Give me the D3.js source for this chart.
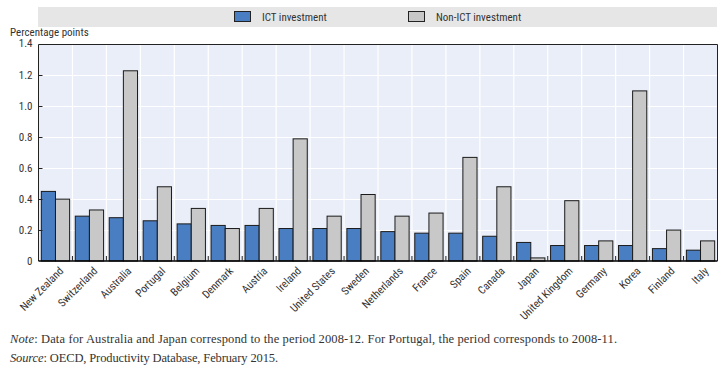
<!DOCTYPE html>
<html><head><meta charset="utf-8">
<script src="https://cdn.jsdelivr.net/npm/d3@7"></script>
<style>
html,body{margin:0;padding:0;background:#fff;}
svg{display:block;}
</style></head>
<body>
<svg id="chart" width="722" height="367"></svg>
<script>
const countries = ["New Zealand","Switzerland","Australia","Portugal","Belgium","Denmark","Austria","Ireland","United States","Sweden","Netherlands","France","Spain","Canada","Japan","United Kingdom","Germany","Korea","Finland","Italy"];
const ictValues    = [0.45,0.29,0.28,0.26,0.24,0.23,0.23,0.21,0.21,0.21,0.19,0.18,0.18,0.16,0.12,0.10,0.10,0.10,0.08,0.07];
const nonIctValues = [0.40,0.33,1.23,0.48,0.34,0.21,0.34,0.79,0.29,0.43,0.29,0.31,0.67,0.48,0.02,0.39,0.13,1.10,0.20,0.13];
const seriesNames = ["ICT investment","Non-ICT investment"];
const seriesColors = ["#4a7ec2","#c8c8c8"];
const yTicks = [0,0.2,0.4,0.6,0.8,1.0,1.2,1.4];
const yLabel = "Percentage points";

const svg = d3.select("#chart");
const L = 38.5, R = 717.5, T = 44.5, B = 261;
const sans = "'Liberation Sans Narrow','Roboto Condensed','Arial Narrow',Arial,sans-serif";

// legend bar
svg.append("rect").attr("x",38).attr("y",7).attr("width",679).attr("height",20).attr("fill","#e6e6e6");
const legX = [234, 408];
seriesNames.forEach((s,i)=>{
  svg.append("rect").attr("x",legX[i]+0.5).attr("y",11.5).attr("width",16).attr("height",10)
    .attr("fill",seriesColors[i]).attr("stroke","#222").attr("stroke-width",1);
  svg.append("text").attr("x",legX[i]+28).attr("y",20.5).text(s)
    .attr("font-family",sans).attr("font-size",11).attr("fill","#333");
});

const x0 = d3.scaleBand().domain(countries).range([L,R]).padding(0);
const x1 = d3.scaleBand().domain(seriesNames).range([0,x0.bandwidth()]).paddingInner(0).paddingOuter(0.2);
const y = d3.scaleLinear().domain([0,1.4]).range([B,T]);

// background
svg.append("rect").attr("x",L).attr("y",T).attr("width",R-L).attr("height",B-T).attr("fill","#e9eef8");
// horizontal grid
svg.append("g").selectAll("line").data(yTicks.slice(1,-1)).join("line")
  .attr("x1",L).attr("x2",R).attr("y1",d=>Math.round(y(d))+0.5).attr("y2",d=>Math.round(y(d))+0.5)
  .attr("stroke","#fff").attr("stroke-width",1.2);
// vertical grid
svg.append("g").selectAll("line").data(countries.slice(1)).join("line")
  .attr("x1",d=>x0(d)).attr("x2",d=>x0(d)).attr("y1",T).attr("y2",B)
  .attr("stroke","#fff").attr("stroke-width",1.2);

// bars
const data = countries.map((c,i)=>({c, vals:[ictValues[i], nonIctValues[i]]}));
const g = svg.append("g");
data.forEach(d=>{
  d.vals.forEach((v,j)=>{
    g.append("rect")
      .attr("x",x0(d.c)+x1(seriesNames[j]))
      .attr("y",y(v))
      .attr("width",x1.bandwidth())
      .attr("height",y(0)-y(v))
      .attr("fill",seriesColors[j]).attr("stroke","#1a1a1a").attr("stroke-width",1);
  });
});

// frame
svg.append("path").attr("d",`M${L},${B}V${T}H${R}V${B}`).attr("fill","none").attr("stroke","#222").attr("stroke-width",1);
svg.append("line").attr("x1",L).attr("x2",R).attr("y1",B).attr("y2",B).attr("stroke","#000").attr("stroke-width",1.5);

// y axis
const yAxis = d3.axisLeft(y).tickValues(yTicks).tickSize(0).tickPadding(6)
  .tickFormat(d=> d===0 ? "0" : d3.format(".1f")(d));
const ya = svg.append("g").attr("transform",`translate(${L},0)`).call(yAxis);
ya.select(".domain").remove();
ya.selectAll("text").attr("font-family",sans).attr("font-size",11).attr("fill","#333");
ya.selectAll(".tick").filter(d=>d===1.4).select("text").attr("dy","0.2em");
// inward y ticks
svg.append("g").selectAll("line").data(yTicks.slice(1,-1)).join("line")
  .attr("x1",L).attr("x2",L+4).attr("y1",d=>Math.round(y(d))+0.5).attr("y2",d=>Math.round(y(d))+0.5)
  .attr("stroke","#222");
// x ticks (inward, at band boundaries)
svg.append("g").selectAll("line").data(countries.slice(1)).join("line")
  .attr("x1",d=>x0(d)).attr("x2",d=>x0(d)).attr("y1",B).attr("y2",B-5)
  .attr("stroke","#222");

// x labels
svg.append("g").selectAll("text").data(countries).join("text")
  .attr("transform",d=>`translate(${x0(d)+x0.bandwidth()/2+6},${B+8}) rotate(-45)`)
  .attr("text-anchor","end").attr("dy","0.35em")
  .attr("font-family",sans).attr("font-size",11).attr("fill","#333")
  .text(d=>d);

svg.append("text").attr("x",10).attr("y",35.5).text(yLabel)
  .attr("font-family",sans).attr("font-size",11).attr("fill","#333");

// notes
const serif = "'Liberation Serif','Times New Roman',serif";
const n1 = svg.append("text").attr("x",10).attr("y",343).attr("font-family",serif).attr("font-size",12.5).attr("fill","#333")
  .attr("textLength",607).attr("lengthAdjust","spacing");
n1.append("tspan").attr("font-style","italic").text("Note");
n1.append("tspan").text(": Data for Australia and Japan correspond to the period 2008-12. For Portugal, the period corresponds to 2008-11.");
const n2 = svg.append("text").attr("x",10).attr("y",362).attr("font-family",serif).attr("font-size",12.5).attr("fill","#333")
  .attr("textLength",268).attr("lengthAdjust","spacing");
n2.append("tspan").attr("font-style","italic").text("Source");
n2.append("tspan").text(": OECD, Productivity Database, February 2015.");
</script>
</body></html>
